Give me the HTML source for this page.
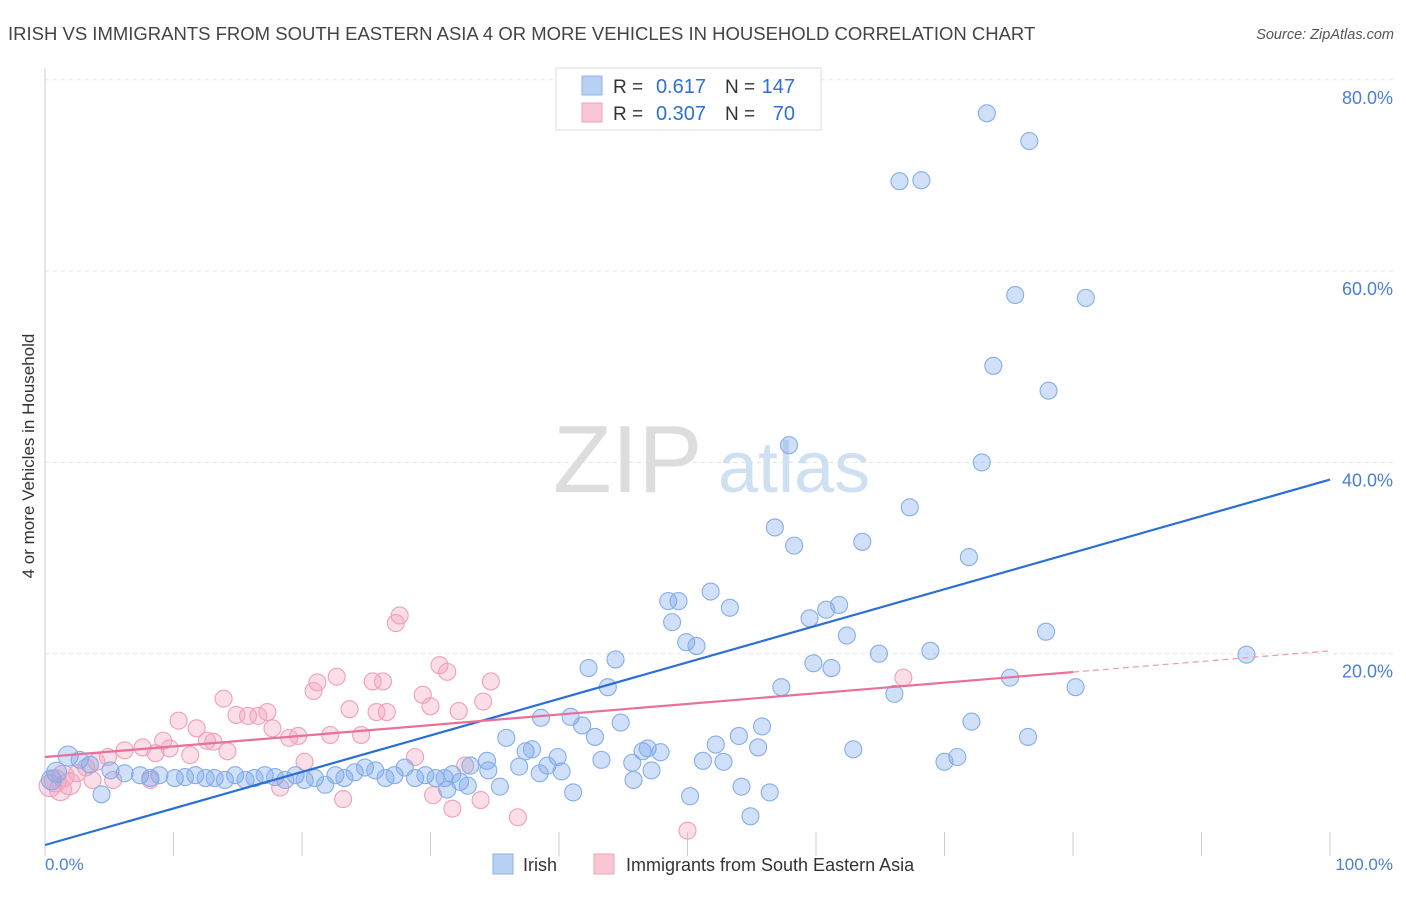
<!DOCTYPE html>
<html><head><meta charset="utf-8"><style>
body{margin:0;background:#fff;font-family:"Liberation Sans",sans-serif;}
svg text{font-family:"Liberation Sans",sans-serif;}
</style></head><body>
<svg id="chart" width="1406" height="892" xmlns="http://www.w3.org/2000/svg">
<text x="8" y="40" font-size="18.5" fill="#444">IRISH VS IMMIGRANTS FROM SOUTH EASTERN ASIA 4 OR MORE VEHICLES IN HOUSEHOLD CORRELATION CHART</text>
<text x="1394" y="39" font-size="14.5" fill="#555" font-style="italic" text-anchor="end">Source: ZipAtlas.com</text>
<g id="grid"></g>
<g>
<text x="553" y="492" font-size="96" fill="#ddd" font-family="Liberation Serif, serif">ZIP</text>
<text x="718" y="492" font-size="72" fill="#cfe0f3">atlas</text>
</g>
<line x1="45" y1="68" x2="45" y2="845" stroke="#ccc"/>
<g id="xticks"></g>
<g id="pinkpts"></g>
<g id="bluepts"></g>
<g id="lines"></g>
<g id="ylabels"></g>
<text transform="translate(34,456) rotate(-90)" font-size="17" fill="#333" text-anchor="middle">4 or more Vehicles in Household</text>
<text x="45" y="870" font-size="17" fill="#4a7fd4">0.0%</text>
<text x="1393" y="870" font-size="17" fill="#4a7fd4" text-anchor="end">100.0%</text>
<g>
<rect x="556" y="68" width="265" height="62" fill="#fff" stroke="#ddd"/>
<rect x="582" y="76" width="20" height="19" fill="#b8d0f4" stroke="#8fb2e8"/>
<rect x="582" y="103" width="20" height="19" fill="#f9c6d4" stroke="#f0a0b8"/>
<text x="613" y="93" font-size="19" fill="#333">R =</text>
<text x="706" y="93" font-size="20" fill="#2f6fd6" text-anchor="end">0.617</text>
<text x="725" y="93" font-size="19" fill="#333">N =</text>
<text x="795" y="93" font-size="20" fill="#2f6fd6" text-anchor="end">147</text>
<text x="613" y="120" font-size="19" fill="#333">R =</text>
<text x="706" y="120" font-size="20" fill="#2f6fd6" text-anchor="end">0.307</text>
<text x="725" y="120" font-size="19" fill="#333">N =</text>
<text x="795" y="120" font-size="20" fill="#2f6fd6" text-anchor="end">70</text>
</g>
<g>
<rect x="493" y="854" width="20" height="20" fill="#b8d0f4" stroke="#8fb2e8"/>
<text x="523" y="871" font-size="18" fill="#333">Irish</text>
<rect x="594" y="854" width="20" height="20" fill="#f9c6d4" stroke="#f0a0b8"/>
<text x="626" y="871" font-size="18" fill="#333">Immigrants from South Eastern Asia</text>
</g>
</svg>
<script>
const yTicks=[20,40,60,80];
const yTickLabels=["20.0%","40.0%","60.0%","80.0%"];
const xTicks=[0,10,20,30,40,50,60,70,80,90,100];
const irishX=[73.3,76.6,66.5,68.2,75.5,81.0,73.8,78.1,57.9,72.9,67.3,56.8,58.3,63.6,71.9,48.5,49.3,51.8,53.3,48.8,61.8,60.8,59.5,49.9,50.7,62.4,64.9,68.9,42.3,44.4,59.8,61.2,75.1,77.9,80.2,93.5,43.8,57.3,66.1,40.9,41.8,42.8,44.8,72.1,76.5,55.8,54.0,52.2,55.5,62.9,71.0,70.0,38.6,37.4,37.9,39.9,43.3,46.5,46.9,47.9,45.7,51.2,52.8,47.2,45.8,54.2,56.4,50.2,54.9,35.9,34.4,34.5,35.4,36.9,39.1,40.2,41.1,38.5,33.1,31.7,32.3,31.3,32.9,4.4,1.8,2.7,0.9,0.5,3.5,5.1,6.2,7.4,8.2,8.9,10.1,10.9,11.7,12.5,13.2,14.0,14.8,15.6,16.3,17.1,17.9,18.7,19.5,20.2,21.0,21.8,22.6,23.3,24.1,24.9,25.7,26.5,27.2,28.0,28.8,29.6,30.4,31.1];
const irishY=[76.5,73.6,69.4,69.5,57.5,57.2,50.1,47.5,41.8,40.0,35.3,33.2,31.3,31.7,30.1,25.5,25.5,26.5,24.8,23.3,25.1,24.6,23.7,21.2,20.8,21.9,20.0,20.3,18.5,19.4,19.0,18.5,17.5,22.3,16.5,19.9,16.5,16.5,15.8,13.4,12.5,11.3,12.8,12.9,11.3,12.4,11.4,10.5,10.2,10.0,9.2,8.7,13.3,9.8,10.0,9.2,8.9,9.8,10.1,9.7,8.6,8.8,8.7,7.8,6.8,6.1,5.5,5.1,3.0,11.2,8.8,7.8,6.1,8.2,8.3,7.7,5.5,7.5,8.3,7.4,6.6,5.8,6.2,5.3,9.3,8.9,7.6,6.8,8.4,7.8,7.5,7.3,7.0,7.3,7.0,7.1,7.3,7.0,7.0,6.8,7.3,6.8,7.0,7.3,7.1,6.8,7.3,6.8,7.0,6.3,7.3,7.0,7.6,8.1,7.8,7.0,7.3,8.1,7.0,7.3,7.0,7.0];
const immX=[27.6,27.3,30.7,31.3,22.7,21.2,20.9,26.3,25.5,34.7,29.4,30.0,34.1,32.2,13.9,14.9,15.8,16.6,17.3,25.8,26.6,23.7,24.6,22.2,19.0,19.7,17.7,10.4,11.8,12.6,13.1,14.2,9.2,9.7,8.6,7.6,6.2,4.9,4.0,3.2,2.5,1.4,0.8,0.4,1.2,1.9,3.7,5.3,8.2,11.3,20.2,28.8,32.7,18.3,23.2,30.2,31.7,33.9,36.8,50.0,66.8];
const immY=[24.0,23.2,18.8,18.1,17.6,17.0,16.1,17.1,17.1,17.1,15.7,14.5,15.0,14.0,15.3,13.6,13.5,13.5,13.9,13.9,13.9,14.2,11.5,11.5,11.2,11.4,12.2,13.0,12.2,10.9,10.8,9.8,10.9,10.1,9.6,10.2,9.9,9.2,8.7,8.1,7.5,7.2,6.7,6.2,5.8,6.4,6.8,6.8,6.8,9.4,8.7,9.2,8.3,6.0,4.8,5.2,3.8,4.7,2.9,1.5,17.5];
const irishTrend=[0.0,0.382];
const immTrend=[9.2,0.111];
const immSolidEnd=80;

const NS="http://www.w3.org/2000/svg";
const sx=v=>45+v*12.85;
const sy=v=>845-v*9.565;
function mk(tag,attrs,parent){const e=document.createElementNS(NS,tag);for(const k in attrs)e.setAttribute(k,attrs[k]);parent.appendChild(e);return e;}
const grid=document.getElementById('grid');
const yl=document.getElementById('ylabels');
yTicks.forEach((t,i)=>{
  const l=mk('line',{x1:45,x2:1393,y1:sy(t),y2:sy(t),stroke:'#e3e3e3','stroke-dasharray':'4,4'},grid);
  
  
  const tx=mk('text',{x:1393,y:sy(t)+24,'font-size':18,fill:'#4a7fd4','text-anchor':'end'},yl);
  tx.textContent=yTickLabels[i];
  
  
});
const xt=document.getElementById('xticks');
xTicks.forEach(t=>{
  const l=mk('line',{x1:sx(t),x2:sx(t),y1:832,y2:856,stroke:'#ccc'},xt);
  
  
});
const pp=document.getElementById('pinkpts');
immX.forEach((x,i)=>{
  const c=mk('circle',{cx:sx(x),cy:sy(immY[i]),r:x<2?11:8.5,fill:'rgba(244,160,188,0.35)',stroke:'#f0a0b8','stroke-width':1.1},pp);
  
  
});
const bp=document.getElementById('bluepts');
irishX.forEach((x,i)=>{
  const c=mk('circle',{cx:sx(x),cy:sy(irishY[i]),r:x<2?10:8.5,fill:'rgba(120,165,235,0.35)',stroke:'#86aee8','stroke-width':1.1},bp);
  
  
});
const ln=document.getElementById('lines');
const b=mk('line',{x1:sx(0),y1:sy(irishTrend[0]),x2:sx(100),y2:sy(irishTrend[0]+irishTrend[1]*100),stroke:'#2b6fd6','stroke-width':2.2},ln);


const p=mk('line',{x1:sx(0),y1:sy(immTrend[0]),x2:sx(immSolidEnd),y2:sy(immTrend[0]+immTrend[1]*immSolidEnd),stroke:'#e8709a','stroke-width':2.2},ln);


const pd=mk('line',{x1:sx(immSolidEnd),y1:sy(immTrend[0]+immTrend[1]*immSolidEnd),x2:sx(100),y2:sy(immTrend[0]+immTrend[1]*100),stroke:'#e8a0b8','stroke-width':1.3,'stroke-dasharray':'6,4'},ln);


</script>
</body></html>
